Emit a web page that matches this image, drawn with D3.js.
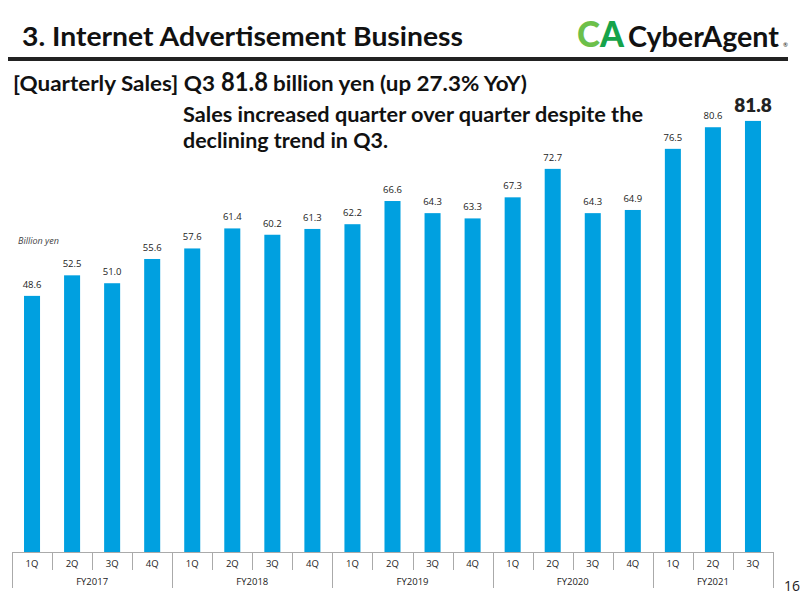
<!DOCTYPE html>
<html>
<head>
<meta charset="utf-8">
<script src="https://cdn.jsdelivr.net/npm/d3@7"></script>
<style>
  body { margin: 0; background: #fff; }
  svg { display: block; }
</style>
</head>
<body>
<svg width="800" height="600"></svg>
<script>
// 季度 / 年度 / 数值
const quarters = ['1Q','2Q','3Q','4Q','1Q','2Q','3Q','4Q','1Q','2Q','3Q','4Q','1Q','2Q','3Q','4Q','1Q','2Q','3Q'];
const fiscalYears = ['FY2017','FY2018','FY2019','FY2020','FY2021'];
const quartersPerYear = [4, 4, 4, 4, 3];
const sales = [48.6, 52.5, 51.0, 55.6, 57.6, 61.4, 60.2, 61.3, 62.2, 66.6, 64.3, 63.3, 67.3, 72.7, 64.3, 64.9, 76.5, 80.6, 81.8];

const svg = d3.select('svg');
const blue = '#00a0e0';
const headFont = 'Lato, sans-serif';
const bodyFont = '"Open Sans", sans-serif';

// 固定宽度的文字
const fitText = (x, y, size, len, str, weight = 700) => svg.append('text')
    .attr('x', x).attr('y', y)
    .attr('font-family', headFont)
    .attr('font-weight', weight)
    .attr('font-size', size)
    .attr('textLength', len)
    .attr('lengthAdjust', 'spacingAndGlyphs')
    .attr('fill', '#111')
    .text(str);

// 标题
fitText(22, 46, 26, 441, '3. Internet Advertisement Business');

svg.append('rect')
    .attr('x', 8).attr('y', 57)
    .attr('width', 780).attr('height', 4)
    .attr('fill', '#222');

// logo
fitText(577, 47, 36, 23, 'C', 900).attr('fill', '#6cc04a');
fitText(600, 47, 36, 24, 'A', 900).attr('fill', '#16a34a');
fitText(628, 47, 29, 151, 'CyberAgent');
svg.append('text')
    .attr('x', 783).attr('y', 47)
    .attr('font-family', headFont)
    .attr('font-size', 6)
    .attr('fill', '#111')
    .text('®');

// 副标题
fitText(13, 91, 20, 202, '[Quarterly Sales] Q3');
fitText(221, 91, 27, 47, '81.8');
fitText(273, 91, 20, 254, 'billion yen (up 27.3% YoY)');

fitText(183, 122, 20, 460, 'Sales increased quarter over quarter despite the');
fitText(183, 148, 20, 205, 'declining trend in Q3.');

svg.append('text')
    .attr('x', 18).attr('y', 244)
    .attr('font-family', bodyFont)
    .attr('font-style', 'italic')
    .attr('font-size', 9)
    .attr('fill', '#444')
    .text('Billion yen');

// 比例尺
const idx = d3.range(sales.length);
const x = d3.scaleBand()
    .domain(idx)
    .range([12, 773])
    .paddingInner(0.6)
    .paddingOuter(0.3);
const y = d3.scaleLinear()
    .domain([0, 100])
    .range([552, 25]);

const step = x.step();
const x0 = 12;
const last = sales.length - 1;

// 柱子
svg.append('g')
    .selectAll('rect')
    .data(sales)
    .join('rect')
    .attr('x', (d, i) => x(i))
    .attr('y', d => y(d))
    .attr('width', x.bandwidth())
    .attr('height', d => y(0) - y(d))
    .attr('fill', blue);

// 数值标签
svg.append('g')
    .selectAll('text')
    .data(sales)
    .join('text')
    .attr('x', (d, i) => x(i) + x.bandwidth() / 2)
    .attr('y', (d, i) => y(d) - (i === last ? 9 : 8))
    .attr('text-anchor', 'middle')
    .attr('font-family', (d, i) => i === last ? headFont : bodyFont)
    .attr('font-weight', (d, i) => i === last ? 800 : 400)
    .attr('font-size', (d, i) => i === last ? 19 : 9.5)
    .attr('fill', '#222')
    .text(d => d.toFixed(1));

// 轴
const axis = svg.append('g').attr('stroke', '#aaa').attr('stroke-width', 1);
axis.append('line')
    .attr('x1', x0).attr('x2', x0 + step * sales.length)
    .attr('y1', 552.5).attr('y2', 552.5);

const yearStarts = [0];
quartersPerYear.forEach((n, i) => yearStarts.push(yearStarts[i] + n));

d3.range(sales.length + 1).forEach(i => {
    const isYear = yearStarts.includes(i);
    const px = Math.round(x0 + i * step) + 0.5;
    axis.append('line')
        .attr('x1', px).attr('x2', px)
        .attr('y1', 552).attr('y2', isYear ? 588 : 570);
});

svg.append('g')
    .selectAll('text')
    .data(quarters)
    .join('text')
    .attr('x', (d, i) => x(i) + x.bandwidth() / 2)
    .attr('y', 567)
    .attr('text-anchor', 'middle')
    .attr('font-family', bodyFont)
    .attr('font-size', 9.5)
    .attr('fill', '#222')
    .text(d => d);

svg.append('g')
    .selectAll('text')
    .data(fiscalYears)
    .join('text')
    .attr('x', (d, i) => x0 + (yearStarts[i] + quartersPerYear[i] / 2) * step)
    .attr('y', 585)
    .attr('text-anchor', 'middle')
    .attr('font-family', bodyFont)
    .attr('font-size', 9.5)
    .attr('fill', '#222')
    .text(d => d);

svg.append('text')
    .attr('x', 784).attr('y', 591)
    .attr('font-family', bodyFont)
    .attr('font-size', 14)
    .attr('fill', '#222')
    .text('16');
</script>
</body>
</html>
